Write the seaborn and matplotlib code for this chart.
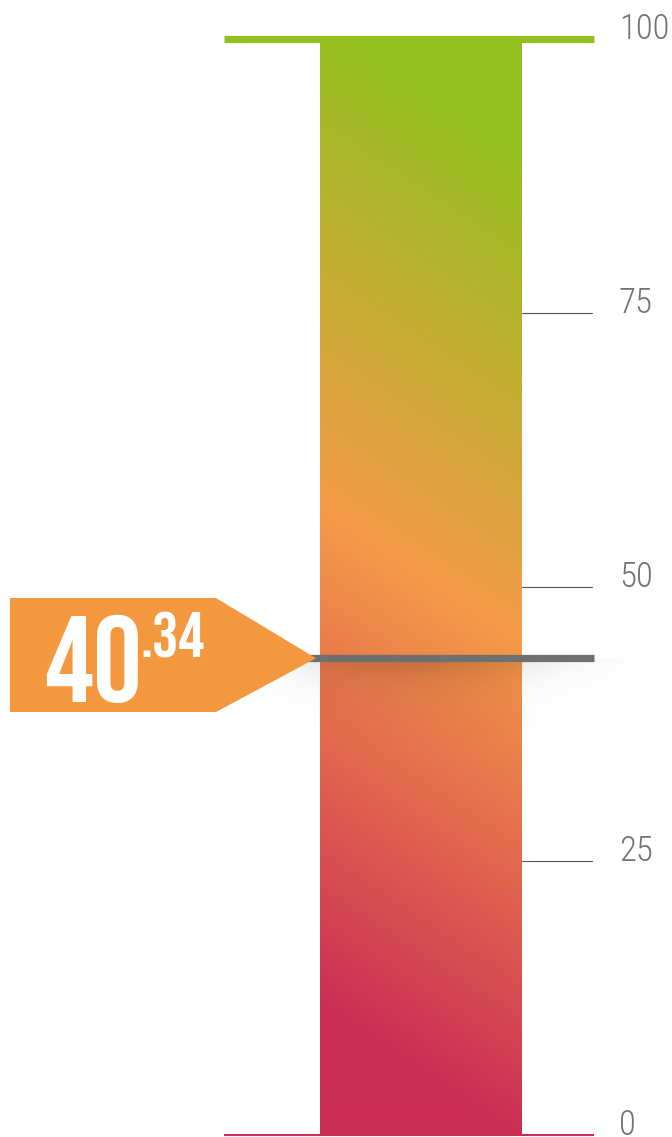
import numpy as np
import pandas as pd
import seaborn as sns
import matplotlib
matplotlib.use("Agg")
import matplotlib.pyplot as plt
from matplotlib.colors import LinearSegmentedColormap
from matplotlib.patches import Polygon

# ---------------- data ----------------
gauge_name = ["score"]
gauge_max = [100]
tick_values = [0, 25, 50, 75, 100]
tick_labels = ["0", "25", "50", "75", "100"]
score_int = "40"
score_dec = ".34"
needle_level = 43.5          # where the grey marker line sits on the scale
grad_colors = ["#cb2d55", "#f59a48", "#93c01f"]

# ---------------- layout helpers (pixel -> data) ----------------
W, H = 672, 1137
PX_PER_UNIT = 10.96
Y0 = 1135                    # pixel row of value 0


def vy(py):
    return (Y0 - py) / PX_PER_UNIT


def vx(px):
    # bar sits on category 0, one x unit = bar width (202 px)
    return (px - 421) / 202


sns.set_style("white")
plt.rcParams['font.family'] = ['Roboto Condensed', 'DejaVu Sans']
big_font = ['Bebas Neue', 'Oswald', 'Roboto Condensed', 'DejaVu Sans']

fig = plt.figure(figsize=(W / 100, H / 100), dpi=100)
ax = fig.add_axes([0, 0, 1, 1])

df = pd.DataFrame({"gauge": gauge_name, "value": gauge_max})
sns.barplot(data=df, x="gauge", y="value", width=1.0, color=grad_colors[0],
            errorbar=None, ax=ax, zorder=1)
bar = ax.patches[0]
bar.set_facecolor("none")
bar.set_edgecolor("none")

# diagonal gradient inside the bar
x0, x1 = bar.get_x(), bar.get_x() + bar.get_width()
y_top = bar.get_height()
gx = np.linspace(x0, x1, 202)
gy = np.linspace(0, y_top, 600)
XX, YY = np.meshgrid(gx, gy)
px = XX * 202 + 421
t = (PX_PER_UNIT * YY - 125 + 0.66 * (px - 320)) / 998
t = np.clip(t, 0, 1)
cmap = LinearSegmentedColormap.from_list("gauge", grad_colors)
img = ax.imshow(cmap(t), extent=(x0, x1, 0, y_top), origin="lower",
                aspect="auto", interpolation="bilinear", zorder=2)
img.set_clip_path(bar)

# soft shadow under the needle
sx = np.linspace(200, 660, 300)
sy = np.linspace(0, 90, 120)
SX, SY = np.meshgrid(sx, sy)
alpha = 0.2 * np.exp(-SY / 22) * np.exp(-((SX - 420) / 125) ** 2)
shadow = np.zeros(SX.shape + (4,))
shadow[..., 3] = alpha
ny = vy(658.5)
ax.imshow(shadow, extent=(vx(200), vx(660), ny - 90 / PX_PER_UNIT, ny),
          origin="upper", aspect="auto", interpolation="bilinear", zorder=3)

# top / bottom lines and ticks
ax.plot([vx(224), vx(594)], [tick_values[-1]] * 2, color=grad_colors[2],
        lw=5.2, solid_capstyle="butt", zorder=4)
ax.plot([vx(224), vx(594)], [tick_values[0]] * 2, color=grad_colors[0],
        lw=1.5, solid_capstyle="butt", zorder=4)
for v, lab in zip(tick_values, tick_labels):
    if 0 < v < 100:
        ax.plot([x1, vx(592)], [v, v], color="#555555", lw=0.8, zorder=4)
    ax.text(vx(619), v, lab, ha="left", va="baseline", fontsize=25,
            fontweight="light", color="#737373", zorder=5)

# needle
ax.plot([vx(308), vx(594)], [needle_level] * 2, color="#6f6f6f", lw=5.2,
        solid_capstyle="butt", zorder=5)

# orange pointer with the value
ptr = [(vx(10), vy(598)), (vx(216), vy(598)), (vx(316), needle_level),
       (vx(216), vy(712)), (vx(10), vy(712))]
ax.add_patch(Polygon(ptr, closed=True, facecolor="#f4983f", edgecolor="none",
                     zorder=6))
t40 = ax.text(vx(44), vy(702), score_int, ha="left", va="baseline",
              fontsize=88, family=big_font, color="white", zorder=7)
ax.annotate(score_dec, xy=(1, vy(658)), xycoords=(t40, "data"),
            xytext=(-1, 0), textcoords="offset points",
            ha="left", va="baseline", fontsize=47, family=big_font,
            color="white", zorder=7)

ax.set_xlim(vx(0), vx(W))
ax.set_ylim(vy(H), vy(0))
ax.set_axis_off()

fig.savefig("out.png", dpi=100)
